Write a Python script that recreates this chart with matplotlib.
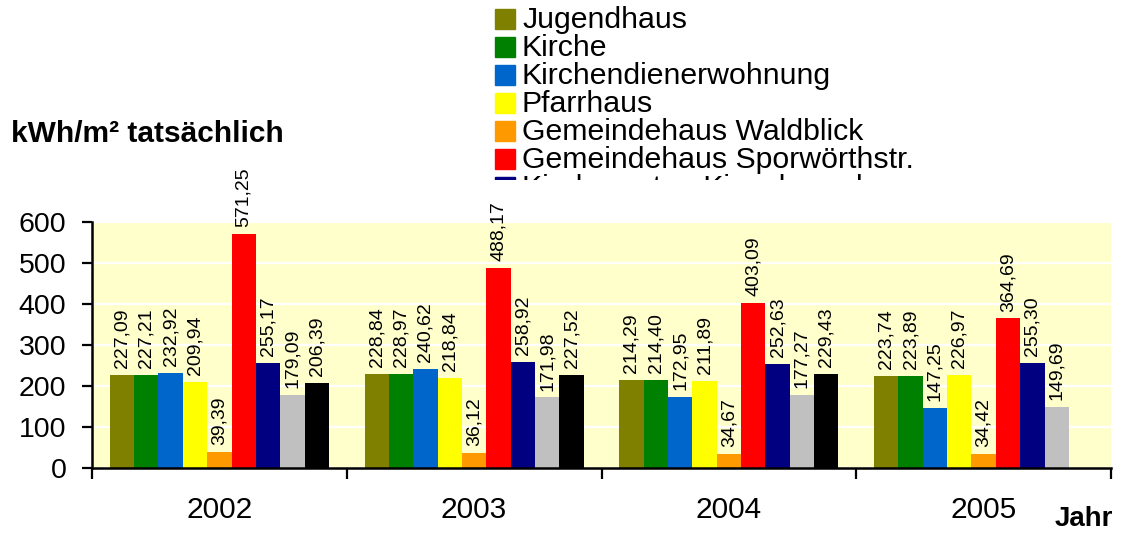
import numpy as np
import matplotlib
matplotlib.use("Agg")
import matplotlib.pyplot as plt
from matplotlib.patches import Rectangle

years = ["2002", "2003", "2004", "2005"]
series_names = [
    "Jugendhaus",
    "Kirche",
    "Kirchendienerwohnung",
    "Pfarrhaus",
    "Gemeindehaus Waldblick",
    "Gemeindehaus Sporwörthstr.",
    "Kindergarten Kieselgrund",
    "Gebäude 8",
    "Gebäude 9",
]
jugendhaus = [227.09, 228.84, 214.29, 223.74]
kirche = [227.21, 228.97, 214.40, 223.89]
kirchendiener = [232.92, 240.62, 172.95, 147.25]
pfarrhaus = [209.94, 218.84, 211.89, 226.97]
waldblick = [39.39, 36.12, 34.67, 34.42]
sporwoerth = [571.25, 488.17, 403.09, 364.69]
kieselgrund = [255.17, 258.92, 252.63, 255.30]
gebaeude8 = [179.09, 171.98, 177.27, 149.69]
gebaeude9 = [206.39, 227.52, 229.43, None]
series_values = [jugendhaus, kirche, kirchendiener, pfarrhaus, waldblick,
                 sporwoerth, kieselgrund, gebaeude8, gebaeude9]
colors = ["#808000", "#008000", "#0066CC", "#FFFF00", "#FF9900",
          "#FF0000", "#000080", "#C0C0C0", "#000000"]
y_ticks = [0, 100, 200, 300, 400, 500, 600]

plt.rcParams["font.family"] = ["Liberation Sans", "DejaVu Sans"]

W, H = 1122, 535
fig = plt.figure(figsize=(W / 100, H / 100), dpi=100)
ax = fig.add_axes([92 / W, 1 - 468 / H, (1111 - 92) / W, (468 - 222) / H])
ax.set_facecolor("#FFFFCC")
ax.set_axisbelow(True)

n = len(series_names)
bw = 0.0956
x = np.arange(len(years))
for i, (name, vals, c) in enumerate(zip(series_names, series_values, colors)):
    xs = x - (n * bw) / 2 + bw * (i + 0.5)
    for xi, v in zip(xs, vals):
        if v is None:
            continue
        ax.bar(xi, v, width=bw, color=c, linewidth=0)
        ax.annotate(f"{v:.2f}".replace(".", ","), (xi, v), xytext=(0, 5),
                    textcoords="offset points", rotation=90, ha="center",
                    va="bottom", fontsize=14, annotation_clip=False)

ax.set_xlim(-0.5, len(years) - 0.5)
ax.set_ylim(0, 600)
ax.set_yticks(y_ticks)
ax.yaxis.grid(True, color="white", linewidth=1.6)
ax.tick_params(axis="y", direction="out", length=7.5, width=1.6,
               labelsize=20.5, pad=11)
ax.set_xticks(x)
ax.set_xticklabels(years)
ax.set_xticks(np.arange(len(years) + 1) - 0.5, minor=True)
ax.tick_params(axis="x", which="major", length=0, labelsize=21.5, pad=20)
ax.tick_params(axis="x", which="minor", direction="out", length=8, width=1.6)
for s in ["top", "right"]:
    ax.spines[s].set_visible(False)
for s in ["left", "bottom"]:
    ax.spines[s].set_linewidth(1.8)

fig.text(11 / W, 1 - 142 / H, "kWh/m² tatsächlich", fontsize=21.5,
         fontweight="bold", ha="left", va="baseline")
fig.text(1055 / W, 1 - 526 / H, "Jahr", fontsize=20,
         fontweight="bold", ha="left", va="baseline")

# legend (clipped at its bottom as in the reference)
lx0, lx1, ly1 = 480, 1000, 180
lax = fig.add_axes([lx0 / W, 1 - ly1 / H, (lx1 - lx0) / W, ly1 / H])
lax.set_xlim(lx0, lx1)
lax.set_ylim(ly1, 0)
lax.axis("off")
for i, (name, c) in enumerate(zip(series_names, colors)):
    top = 9 + 28 * i
    lax.add_patch(Rectangle((495, top), 20, 20, color=c, clip_on=True))
    lax.text(522, top + 19, name, fontsize=21.8, ha="left", va="baseline",
             clip_on=True)

fig.savefig("out.png", dpi=100)
